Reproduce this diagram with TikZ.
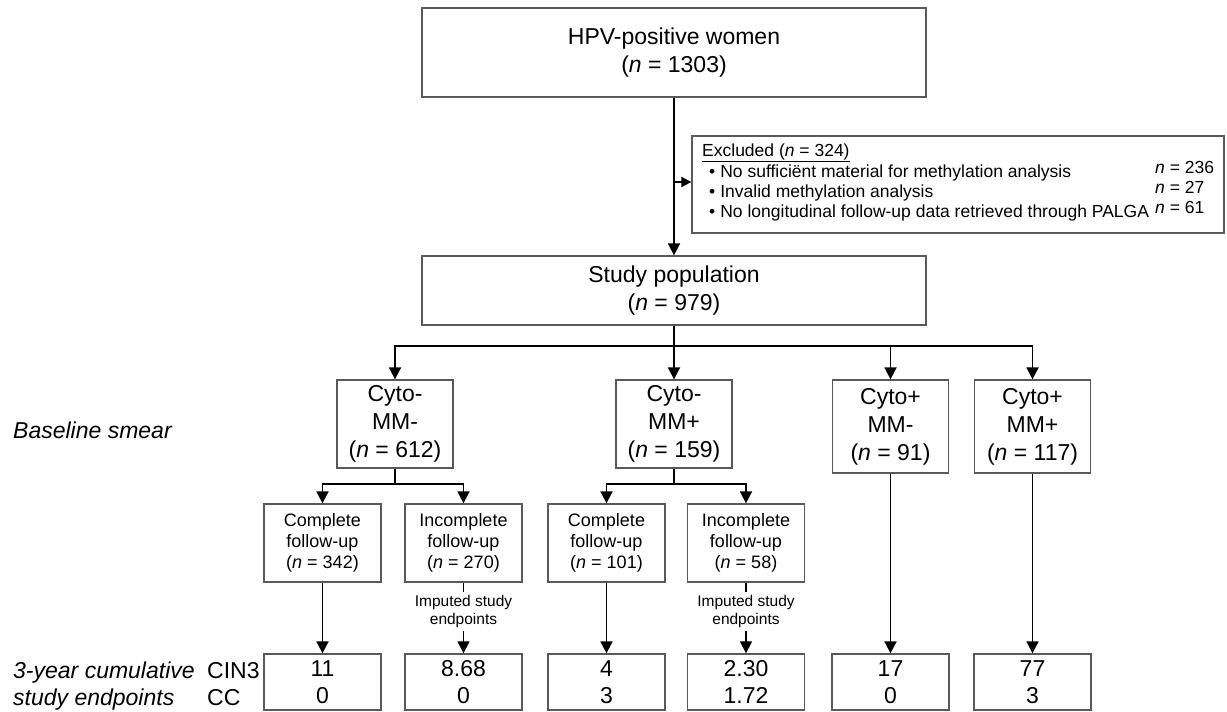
\documentclass[tikz,border=0pt]{standalone}
\usepackage{fontspec}
\setmainfont{Liberation Sans}
\usetikzlibrary{arrows.meta,positioning,calc}

\begin{document}
\begin{tikzpicture}[x=1pt,y=-1pt,
    box/.style={draw=black!65, line width=1.3pt, align=center, inner sep=0pt, font=\fontsize{23}{28}\selectfont},
    widebox/.style={box, minimum width=504pt},
    groupbox/.style={box, minimum width=116pt, minimum height=88pt},
    fubox/.style={box, minimum width=117pt, minimum height=78pt, font=\fontsize{18}{21}\selectfont},
    endbox/.style={box, minimum width=117pt, minimum height=56pt, font=\fontsize{23}{27}\selectfont},
    lbl/.style={anchor=base west, inner sep=0pt, font=\fontsize{23}{27}\selectfont},
    exl/.style={anchor=west, inner sep=0pt, font=\fontsize{17.5}{20}\selectfont},
    imp/.style={align=center, inner sep=0pt, minimum height=39pt, font=\fontsize{15.5}{18}\selectfont},
    arr/.style={-{Triangle[width=12pt,length=12pt]}, line width=1.8pt},
  ]
  \useasboundingbox (0,0) rectangle (1227,712);

  \node[widebox, minimum height=89pt] (hpv) at (674,52.5) {HPV-positive women\\(\textit{n} = 1303)};
  \node[widebox, minimum height=69pt] (study) at (674,290.5) {Study population\\(\textit{n} = 979)};

  % Exclusions
  \node[box, minimum width=532pt, minimum height=97pt] (excl) at (958,184.5) {};
  \node[exl] (exhead) at (702,153) {\underline{Excluded (\textit{n} = 324)}};
  \node[exl] (ex1) at (709,173) {\textbullet\hspace{5pt}No sufficiënt material for methylation analysis};
  \node[exl] (ex2) at (709,193) {\textbullet\hspace{5pt}Invalid methylation analysis};
  \node[exl] (ex3) at (709,213) {\textbullet\hspace{5pt}No longitudinal follow-up data retrieved through PALGA};
  \node[exl] (exn1) at (1155,167) {\textit{n} = 236};
  \node[exl] (exn2) at (1155,187) {\textit{n} = 27};
  \node[exl] (exn3) at (1155,207) {\textit{n} = 61};

  % Baseline smear groups
  \node[groupbox] (cmm) at (395,424) {Cyto-\\MM-\\(\textit{n} = 612)};
  \node[groupbox] (cmp) at (674,424) {Cyto-\\MM+\\(\textit{n} = 159)};
  \node[groupbox, minimum height=93pt] (cpm) at (890.5,426.5) {Cyto+\\MM-\\(\textit{n} = 91)};
  \node[groupbox, minimum height=93pt] (cpp) at (1032.5,426.5) {Cyto+\\MM+\\(\textit{n} = 117)};

  % Follow-up
  \node[fubox] (mmcomp) at (322.5,543) {Complete\\follow-up\\(\textit{n} = 342)};
  \node[fubox] (mmincomp) at (463.5,543) {Incomplete\\follow-up\\(\textit{n} = 270)};
  \node[fubox] (mpcomp) at (606.5,543) {Complete\\follow-up\\(\textit{n} = 101)};
  \node[fubox] (mpincomp) at (746,543) {Incomplete\\follow-up\\(\textit{n} = 58)};
  \node[imp] (mmimp) at (463.5,611.5) {Imputed study\\endpoints};
  \node[imp] (mpimp) at (746,611.5) {Imputed study\\endpoints};

  % Endpoints
  \node[endbox] (e1) at (322.5,682) {11\\0};
  \node[endbox] (e2) at (463.5,682) {8.68\\0};
  \node[endbox] (e3) at (606.5,682) {4\\3};
  \node[endbox] (e4) at (746,682) {2.30\\1.72};
  \node[endbox] (e5) at (890.5,682) {17\\0};
  \node[endbox] (e6) at (1032.5,682) {77\\3};

  % Row labels
  \node[lbl] (baseline) at (13,438) {\textit{Baseline smear}};
  \node[lbl] (cumul) at (13,678) {\textit{3-year cumulative}};
  \node[lbl] (endpts) at (13,705) {\textit{study endpoints}};
  \node[lbl] (cin) at (207,678) {CIN3};
  \node[lbl] (cc) at (207,705) {CC};

  % Edges
  \draw[arr] (hpv) -- (study);
  \coordinate (exsplit) at (674,182);
  \draw[-{Triangle[width=10pt,length=10pt]}, line width=1.8pt] (exsplit) -- (exsplit -| excl.west);
  \foreach \g in {cmm,cmp,cpm,cpp}
    \draw[arr] (study.south) -- ++(0,20) -| (\g.north);
  \foreach \g/\a/\b in {cmm/mmcomp/mmincomp, cmp/mpcomp/mpincomp} {
    \draw[arr] (\g.south) -- ++(0,15) -| (\a.north);
    \draw[arr] (\g.south) -- ++(0,15) -| (\b.north);
  }
  \draw[arr] (mmcomp) -- (e1);
  \draw[arr] (mpcomp) -- (e3);
  \draw[line width=1.2pt] (mmincomp) -- (mmimp);
  \draw[line width=1.2pt] (mpincomp) -- (mpimp);
  \draw[arr, line width=1.2pt] (mmimp) -- (e2);
  \draw[arr, line width=1.2pt] (mpimp) -- (e4);
  \draw[arr] (cpm) -- (e5);
  \draw[arr] (cpp) -- (e6);
\end{tikzpicture}
\end{document}
